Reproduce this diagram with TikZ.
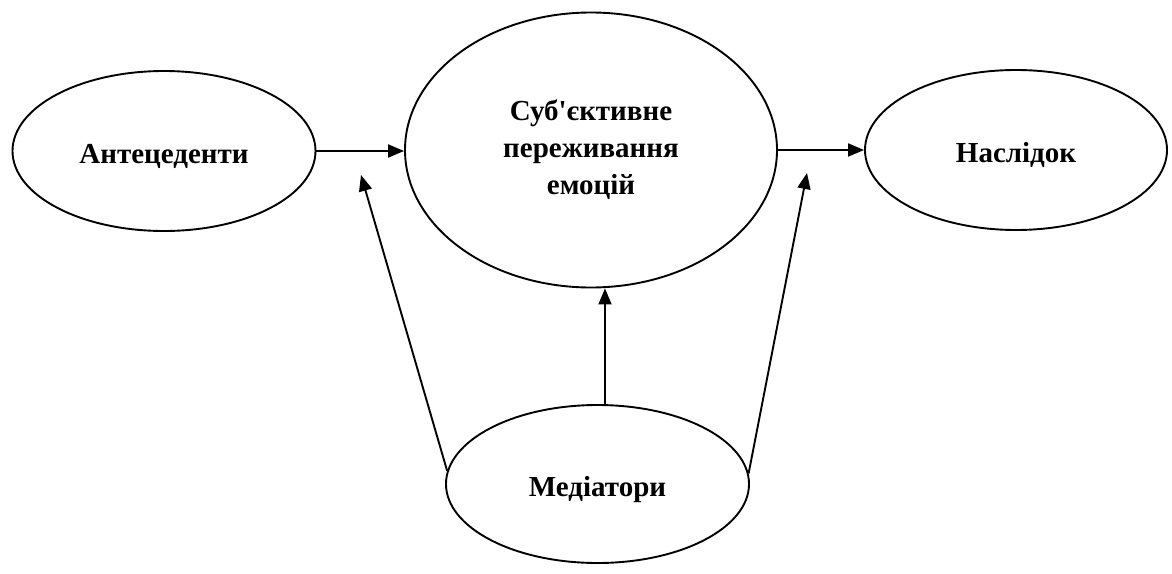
\documentclass[tikz,border=0pt]{standalone}
\usepackage{fontspec}
\setmainfont{Liberation Serif}[Ligatures=TeXOff]
\usetikzlibrary{shapes.geometric,arrows.meta}
\tikzset{
	oval/.style={draw, ellipse, line width=0.95pt, inner sep=0pt, align=center, font=\fontsize{14.5}{18.5}\selectfont\bfseries},
	onerow/.style={text height=15.5pt, text depth=3.5pt},
	arr/.style={line width=0.95pt, -{Triangle[length=8pt,width=6.5pt]}}
}

\begin{document}
\begin{tikzpicture}[x=0.5pt, y=-0.5pt]
				\useasboundingbox (0,0) rectangle (1172,573);
				
				\node[oval, onerow, minimum width=151.5pt, minimum height=80pt] (ante) at (164,151) {Антецеденти};
				\node[oval, minimum width=186pt, minimum height=137.5pt] (sub) at (591,150) {Суб'єктивне\\переживання\\емоцій};
				\node[oval, onerow, minimum width=151pt, minimum height=80pt] (nas) at (1016,150) {Наслідок};
				\node[oval, onerow, minimum width=151.5pt, minimum height=79pt] (med) at (597.5,484) {Медіатори};
				
				\coordinate (lt) at (361,175);
				\coordinate (rt) at (807,173);
				
				\draw[arr] (ante.east) -- (ante.east -| sub.west);
				\draw[arr] (sub.east) -- (sub.east -| nas.west);
				\draw[arr] (med.175) -- (lt);
				\draw[arr] (med.4) -- (rt);
				\draw[arr] ([xshift=3.75pt]med.north) -- ([xshift=3.75pt]med.north |- sub.south);
			\end{tikzpicture}
\end{document}
